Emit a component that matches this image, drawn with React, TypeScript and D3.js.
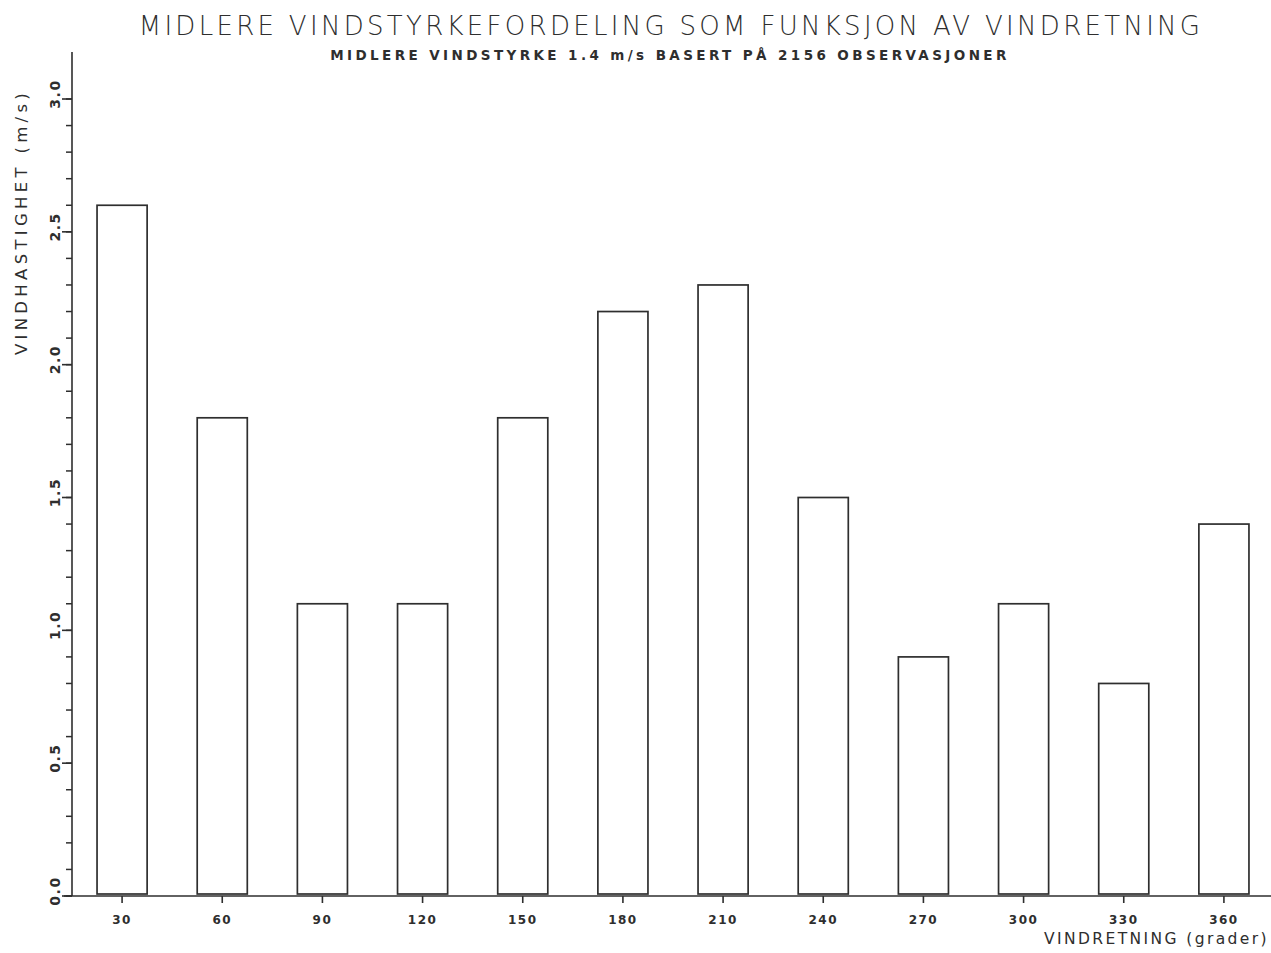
import React from "react";
import * as d3 from "d3";

const categories: number[] = [30, 60, 90, 120, 150, 180, 210, 240, 270, 300, 330, 360];
const values: number[] = [2.6, 1.8, 1.1, 1.1, 1.8, 2.2, 2.3, 1.5, 0.9, 1.1, 0.8, 1.4];
const yMajorTicks: number[] = [0, 0.5, 1.0, 1.5, 2.0, 2.5, 3.0];
const yMinorTicks: number[] = d3.range(0, 31).map((d) => d / 10);

const titleText = "MIDLERE VINDSTYRKEFORDELING SOM FUNKSJON AV VINDRETNING";
const subtitleText = "MIDLERE VINDSTYRKE 1.4 m/s BASERT PÅ 2156 OBSERVASJONER";
const yTitle = "VINDHASTIGHET  (m/s)";
const xTitle = "VINDRETNING (grader)";

const W = 1271;
const H = 953;
const ink = "#2e2e2e";
const font = "'DejaVu Sans', 'Liberation Sans', sans-serif";

export default function App() {
  const x = d3
    .scaleBand<number>()
    .domain(categories)
    .range([72, 1274])
    .paddingInner(0.5)
    .paddingOuter(0.25);
  const y = d3.scaleLinear().domain([0, 3]).range([896, 99]);

  return (
    <svg
      width={W}
      height={H}
      style={{ position: "absolute", left: 0, top: 0, background: "#fff" }}
    >
      <rect x={0} y={0} width={W} height={H} fill="#fff" />
      {/* titles */}
      <text
        x={671}
        y={35}
        textAnchor="middle"
        fontFamily={font}
        fontSize={26}
        letterSpacing={3.3}
        fill={ink}
        style={{ fontWeight: 300 }}
      >
        {titleText}
      </text>
      <text
        x={670}
        y={60}
        textAnchor="middle"
        fontFamily={font}
        fontSize={13.5}
        fontWeight="bold"
        letterSpacing={3.4}
        fill={ink}
      >
        {subtitleText}
      </text>

      {/* y axis */}
      <line x1={72} x2={72} y1={52} y2={896} stroke={ink} strokeWidth={1.6} />
      {yMinorTicks.map((t) => (
        <line
          key={"m" + t}
          x1={66}
          x2={72}
          y1={y(t)}
          y2={y(t)}
          stroke={ink}
          strokeWidth={1.5}
        />
      ))}
      {yMajorTicks.map((t) => (
        <g key={"M" + t}>
          <line x1={62} x2={72} y1={y(t)} y2={y(t)} stroke={ink} strokeWidth={1.6} />
          <text
            transform={`translate(${60},${y(t) - 5}) rotate(-90)`}
            textAnchor="middle"
            fontFamily={font}
            fontSize={14}
            fontWeight="bold"
            letterSpacing={1.5}
            fill={ink}
          >
            {t.toFixed(1)}
          </text>
        </g>
      ))}
      <text
        transform={`translate(${27},${222}) rotate(-90)`}
        textAnchor="middle"
        fontFamily={font}
        fontSize={16.5}
        letterSpacing={4.3}
        fill={ink}
      >
        {yTitle}
      </text>

      {/* bars */}
      {categories.map((c, i) => (
        <rect
          key={"b" + c}
          x={x(c)!}
          y={y(values[i])}
          width={x.bandwidth()}
          height={y(0) - y(values[i]) - 2}
          fill="none"
          stroke={ink}
          strokeWidth={1.7}
        />
      ))}

      {/* x axis */}
      <line x1={64} x2={1271} y1={896} y2={896} stroke={ink} strokeWidth={1.6} />
      {categories.map((c) => {
        const cx = x(c)! + x.bandwidth() / 2;
        return (
          <g key={"x" + c}>
            <line x1={cx} x2={cx} y1={896} y2={903} stroke={ink} strokeWidth={1.6} />
            <text
              x={cx}
              y={924}
              textAnchor="middle"
              fontFamily={font}
              fontSize={12}
              fontWeight="bold"
              letterSpacing={1.5}
              fill={ink}
            >
              {c}
            </text>
          </g>
        );
      })}
      <text
        x={1269}
        y={944}
        textAnchor="end"
        fontFamily={font}
        fontSize={15.5}
        letterSpacing={2.4}
        fill={ink}
      >
        {xTitle}
      </text>
    </svg>
  );
}
